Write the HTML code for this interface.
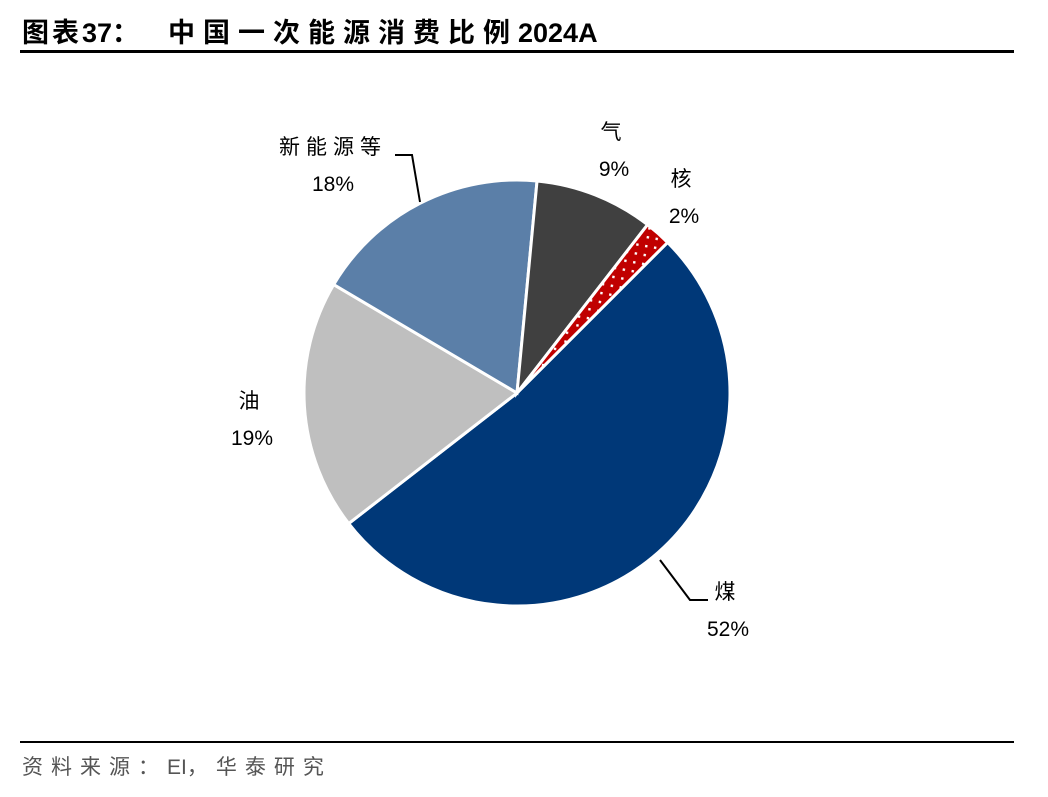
<!DOCTYPE html>
<html><head><meta charset="utf-8"><style>
body{margin:0;background:#fff;width:1048px;height:792px;overflow:hidden;font-family:"Liberation Sans","Noto Sans CJK SC",sans-serif;}
</style></head><body>
<svg width="1048" height="792" xmlns="http://www.w3.org/2000/svg">
<defs>
<pattern id="dots" width="9" height="9" patternUnits="userSpaceOnUse" patternTransform="rotate(10)">
<rect width="9" height="9" fill="#c00000"/><rect x="3" y="3" width="2.4" height="2.4" fill="#fff"/>
</pattern>
</defs>
<text x="22" y="42" font-size="27" font-weight="bold" fill="#000" font-family="'Liberation Sans','Noto Sans CJK SC',sans-serif"><tspan letter-spacing="3">图表</tspan><tspan>37：</tspan><tspan x="168" letter-spacing="8">中国一次能源消费比例</tspan><tspan dx="0">2024A</tspan></text>
<rect x="20" y="50" width="994" height="3" fill="#000"/>
<g id="pie"></g>
<g id="labels" font-size="21" fill="#000" text-anchor="middle"></g>
<polyline points="395,155 412,155 420,202" fill="none" stroke="#000" stroke-width="2"/>
<polyline points="660,560 690,600 708,600" fill="none" stroke="#000" stroke-width="2"/>
<rect x="20" y="741" width="994" height="2" fill="#000"/>
<text x="22" y="774" font-size="21" fill="#555"><tspan letter-spacing="8">资料来源：</tspan><tspan>EI</tspan><tspan letter-spacing="8">，华泰研究</tspan></text>
</svg>
<script>
const categories=["煤","油","新能源等","气","核"];
const values=[52,19,18,9,2];
const colors=["#003878","#bfbfbf","#5b7fa8","#404040","url(#dots)"];
const labelPos=[[728,619],[252,428],[333,174],[614,159],[684,206]];
const cx=517,cy=393,r=213,start=45;
const ns="http://www.w3.org/2000/svg";
const total=values.reduce((a,b)=>a+b,0);
const pie=document.getElementById('pie'),lg=document.getElementById('labels');
function pt(a){const t=a*Math.PI/180;return [cx+r*Math.sin(t),cy-r*Math.cos(t)];}
let a=start;
values.forEach((v,i)=>{
 const span=v/total*360,b=a+span;
 const p1=pt(a),p2=pt(b);
 const path=document.createElementNS(ns,'path');
 path.setAttribute('d',`M${cx},${cy}L${p1[0]},${p1[1]}A${r},${r} 0 ${span>180?1:0} 1 ${p2[0]},${p2[1]}Z`);
 path.setAttribute('fill',colors[i]);path.setAttribute('stroke','#fff');path.setAttribute('stroke-width','3');
 
 
 pie.appendChild(path);
 const [lx,ly]=labelPos[i];
 const t1=document.createElementNS(ns,'text');t1.setAttribute('x',lx);t1.setAttribute('y',ly-20);t1.textContent=categories[i];
 t1.setAttribute('letter-spacing','6');
 
 
 const t2=document.createElementNS(ns,'text');t2.setAttribute('x',lx);t2.setAttribute('y',ly+17);t2.textContent=v+'%';
 
 
 lg.appendChild(t1);lg.appendChild(t2);
 a=b;
});
</script>
</body></html>
